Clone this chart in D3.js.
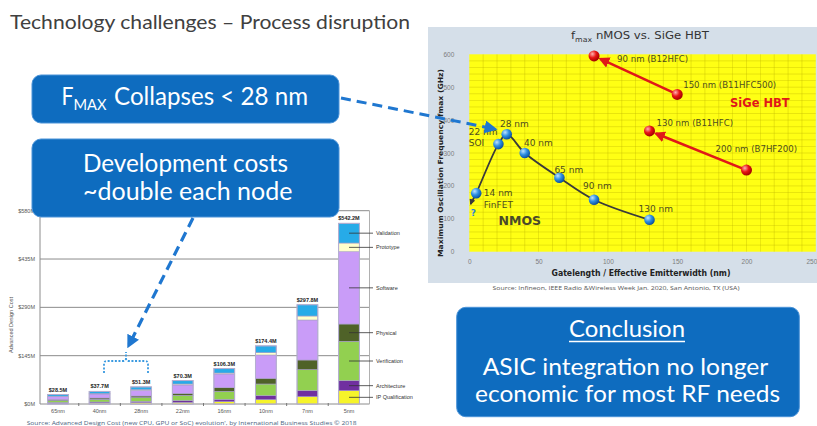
<!DOCTYPE html>
<html><head><meta charset="utf-8">
<script src="https://cdn.jsdelivr.net/npm/d3@7"></script>
<style>body{margin:0;background:#fff;} svg{display:block;}</style>
</head><body><svg id="c" width="817" height="426"></svg>
<script>
// ---------------- Data: fmax chart ----------------
const nmosNodes = ["14 nm", "22 nm", "28 nm", "40 nm", "65 nm", "90 nm", "130 nm"];
const nmosGate  = [5, 21, 27, 40, 65, 90, 130];
const nmosFmax  = [178, 327, 357, 300, 225, 158, 97];
const nmosSub   = ["FinFET", "SOI", "", "", "", "", ""];
const nmosTailGate = 1;     // extrapolated trend "?"
const nmosTailFmax = 145;
const sigeNodes = ["90 nm (B12HFC)", "150 nm (B11HFC500)", "130 nm (B11HFC)", "200 nm (B7HF200)"];
const sigeWidth = [90, 150, 130, 200];
const sigeFmax  = [595, 478, 367, 248];
const sigeArrowFrom = [1, 3];
const sigeArrowTo   = [0, 2];
const fmaxXTicks = [0, 50, 100, 150, 200, 250];
const fmaxYTicks = [0, 100, 200, 300, 400, 500, 600];

// ---------------- Data: design cost chart ----------------
const costNodes  = ["65nm", "40nm", "28nm", "22nm", "16nm", "10nm", "7nm", "5nm"];
const costTotals = [28.5, 37.7, 51.3, 70.3, 106.3, 174.4, 297.8, 542.2];
const costCategories = ["IP Qualification", "Architecture", "Verification", "Physical", "Software", "Prototype", "Validation"];
const ipQualification = [2, 3, 4, 5, 7, 13, 22, 40];
const architecture    = [2.5, 3, 4, 5, 7, 12, 18, 30];
const verification    = [6, 8, 11, 16, 24, 35, 63, 118];
const physical        = [3, 4, 5, 6, 11, 17, 29, 52];
const software        = [9, 12, 17, 25, 41, 70, 120, 217];
const prototype       = [1, 1.5, 2, 3, 3, 7, 12, 26];
const validation      = [5, 6.2, 8.3, 10.3, 13.3, 20.4, 33.8, 59.2];
const costTickValues  = [0, 145, 290, 435, 580];
const costTickLabels  = ["$0M", "$145M", "$290M", "$435M", "$580M"];

// ---------------- helpers ----------------
const svg = d3.select("#c");
const defs = svg.append("defs");
function fit(sel, target) {
  sel.each(function () {
    const w = this.getComputedTextLength();
    if (Math.abs(w - target) / target > 0.02)
      d3.select(this).attr("textLength", target).attr("lengthAdjust", "spacingAndGlyphs");
  });
  return sel;
}
function marker(id, color, size) {
  defs.append("marker").attr("id", id).attr("viewBox", "0 0 10 10")
    .attr("refX", 8).attr("refY", 5).attr("markerWidth", size).attr("markerHeight", size)
    .attr("markerUnits", "userSpaceOnUse").attr("orient", "auto")
    .append("path").attr("d", "M0,0L10,5L0,10z").attr("fill", color);
}
marker("mBlue", "#1f77d0", 13);
marker("mRed", "#e01818", 11);
marker("mDark", "#3a3a3a", 6);
function grad(id, c0, c1, c2) {
  const g = defs.append("radialGradient").attr("id", id).attr("cx", "35%").attr("cy", "32%").attr("r", "70%");
  g.append("stop").attr("offset", "0%").attr("stop-color", c0);
  g.append("stop").attr("offset", "50%").attr("stop-color", c1);
  g.append("stop").attr("offset", "100%").attr("stop-color", c2);
}
grad("gBlue", "#bfe3ff", "#2f90e2", "#0b4f9c");
grad("gRed", "#ffb0b0", "#e81414", "#a00000");

// ---------------- Title ----------------
fit(svg.append("text").attr("x", 10).attr("y", 29)
  .attr("font-family", "Lato, 'Open Sans', sans-serif").attr("font-size", 20).attr("fill", "#404040")
  .text("Technology challenges – Process disruption"), 400);

// ---------------- fmax chart ----------------
const xF = d3.scaleLinear().domain([0, 250]).range([469.3, 815.8]);
const yF = d3.scaleLinear().domain([0, 600]).range([251.7, 54.3]);
const gF = svg.append("g");
gF.append("rect").attr("x", 428).attr("y", 27).attr("width", 389).attr("height", 256).attr("fill", "#d5dfe9");
gF.append("rect").attr("x", xF(0)).attr("y", yF(600)).attr("width", xF(250) - xF(0)).attr("height", yF(0) - yF(600)).attr("fill", "#ffff14");
gF.selectAll(".vg").data(d3.range(10, 250, 10)).join("line")
  .attr("x1", d => xF(d)).attr("x2", d => xF(d)).attr("y1", yF(600)).attr("y2", yF(0))
  .attr("stroke", "#b8ae00").attr("stroke-width", 0.7).attr("opacity", 0.45);
gF.selectAll(".hg").data(d3.range(20, 600, 20)).join("line")
  .attr("x1", xF(0)).attr("x2", xF(250)).attr("y1", d => yF(d)).attr("y2", d => yF(d))
  .attr("stroke", "#b8ae00").attr("stroke-width", 0.7).attr("opacity", 0.45);

const axFont = "'Liberation Sans', Arial, sans-serif";
const axX = gF.append("g").attr("transform", `translate(0,${yF(0)})`)
  .call(d3.axisBottom(xF).tickValues(fmaxXTicks).tickSize(0).tickPadding(8));
const axY = gF.append("g").attr("transform", `translate(${xF(0)},0)`)
  .call(d3.axisLeft(yF).tickValues(fmaxYTicks).tickSize(0).tickPadding(15));
[axX, axY].forEach(a => {
  a.select(".domain").remove();
  a.selectAll("text").attr("font-family", axFont).attr("font-size", 6.5).attr("fill", "#7d7d7d");
});
axX.selectAll(".tick").filter(d => d === 250).select("text").attr("text-anchor", "end").attr("x", 1);
fit(gF.append("text").attr("x", 640).attr("y", 39).attr("text-anchor", "middle")
  .attr("font-family", "'DejaVu Sans', Verdana, sans-serif").attr("font-size", 10.5).attr("fill", "#333")
  .call(t => { t.append("tspan").text("f"); t.append("tspan").attr("font-size", 7).attr("dy", 2.5).text("max");
               t.append("tspan").attr("dy", -2.5).text(" nMOS vs. SiGe HBT"); }), 138);
fit(gF.append("text").attr("x", 641).attr("y", 276).attr("text-anchor", "middle")
  .attr("font-family", "'DejaVu Sans', Verdana, sans-serif").attr("font-size", 8).attr("font-weight", "bold").attr("fill", "#222")
  .text("Gatelength / Effective Emitterwidth (nm)"), 179);
fit(gF.append("text").attr("transform", "translate(442.5,163) rotate(-90)").attr("text-anchor", "middle")
  .attr("font-family", "'DejaVu Sans', Verdana, sans-serif").attr("font-size", 7).attr("font-weight", "bold").attr("fill", "#222")
  .text("Maximum Oscillation Frequency fmax (GHz)"), 188);
fit(svg.append("text").attr("x", 616).attr("y", 290).attr("text-anchor", "middle")
  .attr("font-family", "'Open Sans', sans-serif").attr("font-size", 6).attr("fill", "#555")
  .text("Source: Infineon, IEEE Radio &Wireless Week Jan. 2020, San Antonio, TX (USA)"), 247);

// NMOS curve
const nmosPts = [[nmosTailGate, nmosTailFmax]].concat(nmosGate.map((g, i) => [g, nmosFmax[i]]));
gF.append("path").attr("d", d3.line().x(d => xF(d[0])).y(d => yF(d[1])).curve(d3.curveCatmullRom.alpha(0.5))(nmosPts))
  .attr("fill", "none").attr("stroke", "#3a3a3a").attr("stroke-width", 1.8);
gF.append("line").attr("x1", xF(2.2)).attr("y1", yF(158)).attr("x2", xF(nmosTailGate)).attr("y2", yF(nmosTailFmax))
  .attr("stroke", "#3a3a3a").attr("stroke-width", 1.5).attr("marker-end", "url(#mDark)");

// SiGe arrows
sigeArrowFrom.forEach((f, k) => {
  const t = sigeArrowTo[k];
  const x1 = xF(sigeWidth[f]), y1 = yF(sigeFmax[f]), x2 = xF(sigeWidth[t]), y2 = yF(sigeFmax[t]);
  const L = Math.hypot(x2 - x1, y2 - y1), s = (L - 7) / L;
  gF.append("line").attr("x1", x1).attr("y1", y1).attr("x2", x1 + (x2 - x1) * s).attr("y2", y1 + (y2 - y1) * s)
    .attr("stroke", "#e01818").attr("stroke-width", 2.6).attr("marker-end", "url(#mRed)");
});

// points
gF.selectAll(".np").data(nmosGate).join("circle")
  .attr("cx", d => xF(d)).attr("cy", (d, i) => yF(nmosFmax[i])).attr("r", 5.3).attr("fill", "url(#gBlue)");
gF.selectAll(".sp").data(sigeWidth).join("circle")
  .attr("cx", d => xF(d)).attr("cy", (d, i) => yF(sigeFmax[i])).attr("r", 5.5).attr("fill", "url(#gRed)");

// labels (offsets are layout only)
const lblFont = "'DejaVu Sans', Verdana, sans-serif";
const lblColor = "#4d4d1f";
const nmosOff = [[7.6, 3], [-29.7, -9.5], [-6.7, -6.8], [-0.7, -7.2], [-5, -4.7], [-11, -11], [-11, -7.5]];
nmosNodes.forEach((n, i) => {
  const x = xF(nmosGate[i]) + nmosOff[i][0], y = yF(nmosFmax[i]) + nmosOff[i][1];
  gF.append("text").attr("x", x).attr("y", y).attr("font-family", lblFont).attr("font-size", 9).attr("fill", lblColor).text(n);
  if (nmosSub[i]) gF.append("text").attr("x", x).attr("y", y + 11.8).attr("font-family", lblFont).attr("font-size", 9).attr("fill", lblColor).text(nmosSub[i]);
});
gF.append("text").attr("x", xF(nmosTailGate)).attr("y", 216).attr("font-family", lblFont).attr("font-size", 9)
  .attr("font-weight", "bold").attr("fill", "#2f86d6").text("?");
gF.append("text").attr("x", 498.5).attr("y", 225).attr("font-family", lblFont).attr("font-size", 12.5)
  .attr("font-weight", "bold").attr("fill", "#4a4a2a").text("NMOS");
const sigeOff = [[23, 5.7], [6, -6], [7, -5], [-31, -18]];
sigeNodes.forEach((n, i) => {
  gF.append("text").attr("x", xF(sigeWidth[i]) + sigeOff[i][0]).attr("y", yF(sigeFmax[i]) + sigeOff[i][1])
    .attr("font-family", lblFont).attr("font-size", 8.6).attr("fill", lblColor).text(n);
});
gF.append("text").attr("x", 730).attr("y", 107).attr("font-family", lblFont).attr("font-size", 11.5)
  .attr("font-weight", "bold").attr("fill", "#e01818").text("SiGe HBT");

// ---------------- design cost chart ----------------
const gB = svg.append("g");
const xB = d3.scaleBand().domain(costNodes).range([37.2, 369.8]).paddingInner(0.5).paddingOuter(0.25);
const yB = d3.scaleLinear().domain([0, 580]).range([404, 210.7]);
const smallFont = "'Liberation Sans', Arial, sans-serif";
gB.selectAll(".gl").data(costTickValues).join("line")
  .attr("x1", 40).attr("x2", 369.5).attr("y1", d => yB(d)).attr("y2", d => yB(d))
  .attr("stroke", "#8c8c8c").attr("stroke-width", 1);
gB.append("line").attr("x1", 40).attr("x2", 40).attr("y1", yB(580)).attr("y2", yB(0)).attr("stroke", "#8c8c8c");
gB.append("line").attr("x1", 369.5).attr("x2", 369.5).attr("y1", yB(580)).attr("y2", yB(0)).attr("stroke", "#b0b0b0");
gB.selectAll(".tl").data(costTickValues).join("text")
  .attr("x", 35).attr("y", d => yB(d) + 2).attr("text-anchor", "end")
  .attr("font-family", smallFont).attr("font-size", 5.5).attr("fill", "#555")
  .text((d, i) => costTickLabels[i]);
gB.append("text").attr("transform", "translate(13,325) rotate(-90)").attr("text-anchor", "middle")
  .attr("font-family", smallFont).attr("font-size", 5.5).attr("fill", "#555").text("Advanced Design Cost");
gB.selectAll(".xt").data(costNodes.slice(0, -1)).join("line")
  .attr("x1", d => xB(d) + xB.bandwidth() + xB.step() * 0.25).attr("x2", d => xB(d) + xB.bandwidth() + xB.step() * 0.25)
  .attr("y1", 403).attr("y2", 406).attr("stroke", "#777").attr("stroke-width", 1);
gB.selectAll(".xl").data(costNodes).join("text")
  .attr("x", d => xB(d) + xB.bandwidth() / 2).attr("y", 412.5).attr("text-anchor", "middle")
  .attr("font-family", smallFont).attr("font-size", 5.5).attr("fill", "#555").text(d => d);

const costSeries = [ipQualification, architecture, verification, physical, software, prototype, validation];
const costColors = ["#f6f42a", "#7030a0", "#92d050", "#4f6228", "#c99cf8", "#ffffcc", "#27abe8"];
const table = costNodes.map((n, i) => { const o = { node: n }; costCategories.forEach((c, k) => o[c] = costSeries[k][i]); return o; });
const stacked = d3.stack().keys(costCategories)(table);
stacked.forEach((layer, k) => {
  gB.selectAll(null).data(layer).join("rect")
    .attr("x", d => xB(d.data.node)).attr("width", xB.bandwidth())
    .attr("y", d => yB(d[1])).attr("height", d => yB(d[0]) - yB(d[1]))
    .attr("fill", costColors[k]).attr("stroke", "#a9a0c8").attr("stroke-width", 0.6);
});
gB.selectAll(".bo").data(costNodes).join("rect")
  .attr("x", d => xB(d)).attr("width", xB.bandwidth()).attr("y", (d, i) => yB(costTotals[i])).attr("height", (d, i) => yB(0) - yB(costTotals[i]))
  .attr("fill", "none").attr("stroke", "#b4aed0").attr("stroke-width", 1);
gB.selectAll(".vl").data(costNodes).join("text")
  .attr("x", d => xB(d) + xB.bandwidth() / 2).attr("y", (d, i) => yB(costTotals[i]) - 3).attr("text-anchor", "middle")
  .attr("font-family", smallFont).attr("font-size", 5.5).attr("font-weight", "bold").attr("fill", "#222")
  .text((d, i) => "$" + costTotals[i].toFixed(1) + "M");
const last = costNodes.length - 1, lx = xB(costNodes[last]) + xB.bandwidth() / 2;
stacked.forEach((layer, k) => {
  const ym = yB((layer[last][0] + layer[last][1]) / 2);
  gB.append("line").attr("x1", lx).attr("x2", 373).attr("y1", ym).attr("y2", ym).attr("stroke", "#333").attr("stroke-width", 0.8);
  gB.append("text").attr("x", 376).attr("y", ym + 2).attr("font-family", smallFont).attr("font-size", 5.5).attr("fill", "#333").text(costCategories[k]);
});
fit(svg.append("text").attr("x", 191.7).attr("y", 425).attr("text-anchor", "middle")
  .attr("font-family", "'Open Sans', sans-serif").attr("font-size", 6).attr("fill", "#4a5f80")
  .text("Source: Advanced Design Cost (new CPU, GPU or SoC) evolution', by International Business Studies © 2018"), 330);

// bracket under 40nm/28nm
svg.append("path").attr("d", "M104,373 L104,364 Q104,361 107,361 L123,361 Q126,361 126,358 L126,352 M126,358 Q126,361 129,361 L145,361 Q148,361 148,364 L148,373")
  .attr("fill", "none").attr("stroke", "#3a9ae0").attr("stroke-width", 1.8).attr("stroke-dasharray", "2,1.6");

// ---------------- callout boxes ----------------
const boxFont = "Lato, 'Open Sans', sans-serif";
const boxFill = "#0e6cbf", boxStroke = "#4a93d8";
function box(x, y, w, h) {
  svg.append("rect").attr("x", x).attr("y", y).attr("width", w).attr("height", h).attr("rx", 9)
    .attr("fill", boxFill).attr("stroke", boxStroke).attr("stroke-width", 1);
}
function wtext(x, y, size, str, target) {
  return fit(svg.append("text").attr("x", x).attr("y", y).attr("font-family", boxFont).attr("font-size", size)
    .attr("fill", "#fff").text(str), target);
}
box(32, 75, 307, 48);
wtext(61.5, 105, 25, "F", 12);
wtext(73.5, 109.5, 15.5, "MAX", 33);
wtext(114, 105, 25, "Collapses < 28 nm", 194);
box(32, 139, 307, 78);
wtext(83, 171.5, 25, "Development costs", 205);
wtext(83, 199.5, 25, "~double each node", 206);
box(456.7, 307.3, 342.6, 109.4);
wtext(569, 336.5, 23, "Conclusion", 116);
svg.append("line").attr("x1", 569).attr("x2", 685).attr("y1", 341.5).attr("y2", 341.5).attr("stroke", "#fff").attr("stroke-width", 1.3);
wtext(482.7, 375, 23, "ASIC integration no longer", 285.6);
wtext(475, 401.5, 23, "economic for most RF needs", 305);

// ---------------- dashed arrows ----------------
svg.append("line").attr("x1", 341).attr("y1", 98).attr("x2", 495).attr("y2", 129)
  .attr("stroke", "#1f77d0").attr("stroke-width", 3).attr("stroke-dasharray", "10,6").attr("marker-end", "url(#mBlue)");
svg.append("line").attr("x1", 193).attr("y1", 218).attr("x2", 128.5).attr("y2", 346)
  .attr("stroke", "#1f77d0").attr("stroke-width", 3.2).attr("stroke-dasharray", "10,6").attr("marker-end", "url(#mBlue)");
</script></body></html>
